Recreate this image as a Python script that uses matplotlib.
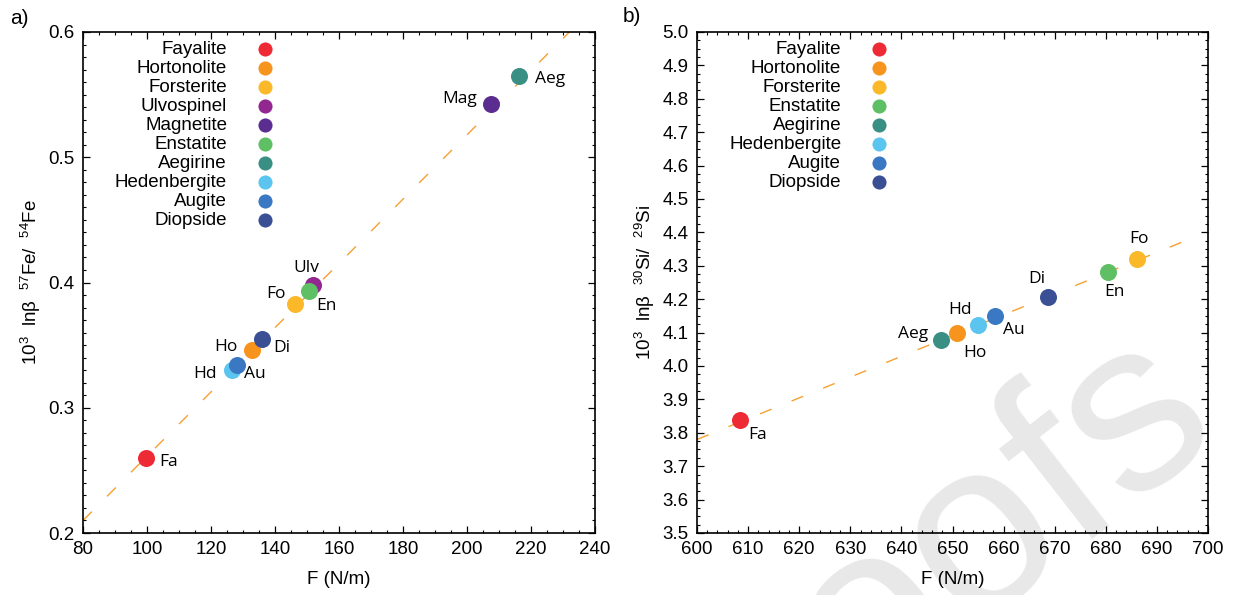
import numpy as np
import matplotlib.pyplot as plt
from matplotlib.ticker import MultipleLocator, FormatStrFormatter

plt.rcParams['font.family'] = ['Liberation Sans', 'DejaVu Sans']
plt.rcParams['mathtext.fontset'] = 'custom'
plt.rcParams['mathtext.rm'] = 'Liberation Sans'
plt.rcParams['mathtext.default'] = 'regular'

# panel a) Fe isotopes
minerals_a = ['Fayalite', 'Hortonolite', 'Forsterite', 'Ulvospinel', 'Magnetite',
              'Enstatite', 'Aegirine', 'Hedenbergite', 'Augite', 'Diopside']
abbr_a = ['Fa', 'Ho', 'Fo', 'Ulv', 'Mag', 'En', 'Aeg', 'Hd', 'Au', 'Di']
F_a = [99.7, 132.7, 146.4, 152.0, 207.4, 150.5, 216.2, 126.5, 128.0, 135.9]
beta_a = [0.260, 0.346, 0.383, 0.398, 0.5425, 0.393, 0.565, 0.330, 0.334, 0.355]
fit_a_x = [80, 232]
fit_a_y = [0.21, 0.60]

# panel b) Si isotopes
minerals_b = ['Fayalite', 'Hortonolite', 'Forsterite', 'Enstatite', 'Aegirine',
              'Hedenbergite', 'Augite', 'Diopside']
abbr_b = ['Fa', 'Ho', 'Fo', 'En', 'Aeg', 'Hd', 'Au', 'Di']
F_b = [608.4, 650.9, 686.2, 680.4, 647.7, 654.9, 658.4, 668.6]
beta_b = [3.838, 4.100, 4.320, 4.282, 4.078, 4.123, 4.150, 4.208]
fit_b_x = [600, 698]
fit_b_y = [3.78, 4.39]

colors = {
    'Fayalite': '#ee2a35', 'Hortonolite': '#f7941d', 'Forsterite': '#fbb829',
    'Ulvospinel': '#92278f', 'Magnetite': '#5c2d91', 'Enstatite': '#5ebf64',
    'Aegirine': '#3a8f85', 'Hedenbergite': '#5bc5ef', 'Augite': '#3a78c3',
    'Diopside': '#3b4f94',
}

# label offsets (pixels): dx, dy, ha
offs_a = {'Fa': (13, -4, 'left'), 'Hd': (-15, -4, 'right'), 'Au': (7, -9, 'left'),
          'Ho': (-14, 3, 'right'), 'Di': (11, -9, 'left'), 'Fo': (-10, 10, 'right'),
          'En': (8, -15, 'left'), 'Ulv': (-7, 17, 'center'), 'Mag': (-14, 5, 'right'),
          'Aeg': (16, -3, 'left')}
offs_b = {'Fa': (8, -15, 'left'), 'Aeg': (-13, 6, 'right'), 'Ho': (6, -20, 'left'),
          'Hd': (-6, 15, 'right'), 'Au': (8, -14, 'left'), 'Di': (-2, 18, 'right'),
          'En': (7, -20, 'center'), 'Fo': (2, 20, 'center')}

FS = 13.5


def panel(ax, names, abbr, F, beta, fx, fy, offs, leg_x):
    ax.patch.set_alpha(0)
    ax.set_zorder(1)
    line, = ax.plot(fx, fy, color='#f7a031', lw=1.0, zorder=1)
    line.set_dashes((9, 15.5))
    for n, a, x, y in zip(names, abbr, F, beta):
        ax.scatter(x, y, s=150, color=colors[n], label=n, zorder=3, linewidths=0)
        dx, dy, ha = offs[a]
        ax.annotate(a, (x, y), xytext=(dx * 0.72, dy * 0.72), textcoords='offset points',
                    ha=ha, va='center', fontsize=12.5, family=['Open Sans', 'DejaVu Sans'])
    ax.tick_params(which='both', direction='in', top=True, right=True, labelsize=FS, pad=6)
    ax.tick_params(which='major', length=5, width=0.9)
    ax.tick_params(which='minor', length=2.5, width=0.8)
    for sp in ax.spines.values():
        sp.set_linewidth(1.2)
    ax.legend(loc='upper right', bbox_to_anchor=(leg_x, 0.982), frameon=False,
              markerfirst=False, borderpad=0, handlelength=1.0, handletextpad=1.53,
              labelspacing=0.1, markerscale=0.83, fontsize=FS, borderaxespad=0)
    ax.set_xlabel('F (N/m)', fontsize=FS, labelpad=9)


fig = plt.figure(figsize=(12.36, 5.95), dpi=100)
ax1 = fig.add_axes([83 / 1236, 62 / 595, 512 / 1236, 501 / 595])
ax2 = fig.add_axes([697 / 1236, 62 / 595, 511 / 1236, 501 / 595])

panel(ax1, minerals_a, abbr_a, F_a, beta_a, fit_a_x, fit_a_y, offs_a, 0.374)
ax1.set_xlim(80, 240)
ax1.set_ylim(0.2, 0.6)
ax1.xaxis.set_major_locator(MultipleLocator(20))
ax1.xaxis.set_minor_locator(MultipleLocator(5))
ax1.yaxis.set_major_locator(MultipleLocator(0.1))
ax1.yaxis.set_minor_locator(MultipleLocator(0.01))
ax1.yaxis.set_major_formatter(FormatStrFormatter('%.1f'))
ax1.set_ylabel(r'10$^{3}$  lnβ  $^{57}$Fe/  $^{54}$Fe', fontsize=FS, labelpad=4)

panel(ax2, minerals_b, abbr_b, F_b, beta_b, fit_b_x, fit_b_y, offs_b, 0.375)
ax2.set_xlim(600, 700)
ax2.set_ylim(3.5, 5.0)
ax2.xaxis.set_major_locator(MultipleLocator(10))
ax2.xaxis.set_minor_locator(MultipleLocator(2))
ax2.yaxis.set_major_locator(MultipleLocator(0.1))
ax2.yaxis.set_minor_locator(MultipleLocator(0.025))
ax2.yaxis.set_major_formatter(FormatStrFormatter('%.1f'))
ax2.set_ylabel(r'10$^{3}$  lnβ  $^{30}$Si/  $^{29}$Si', fontsize=FS, labelpad=4)

fig.text(10 / 1236, 1 - 18 / 595, 'a)', fontsize=15, va='center')
fig.text(623 / 1236, 1 - 17 / 595, 'b)', fontsize=15, va='center')

# watermark
fig.text(905 / 1236, 1 - 590 / 595, 'Proofs', fontsize=175, color='#e8e8e8',
         rotation=38, ha='center', va='center', zorder=0)

fig.savefig('out.png', dpi=100)
